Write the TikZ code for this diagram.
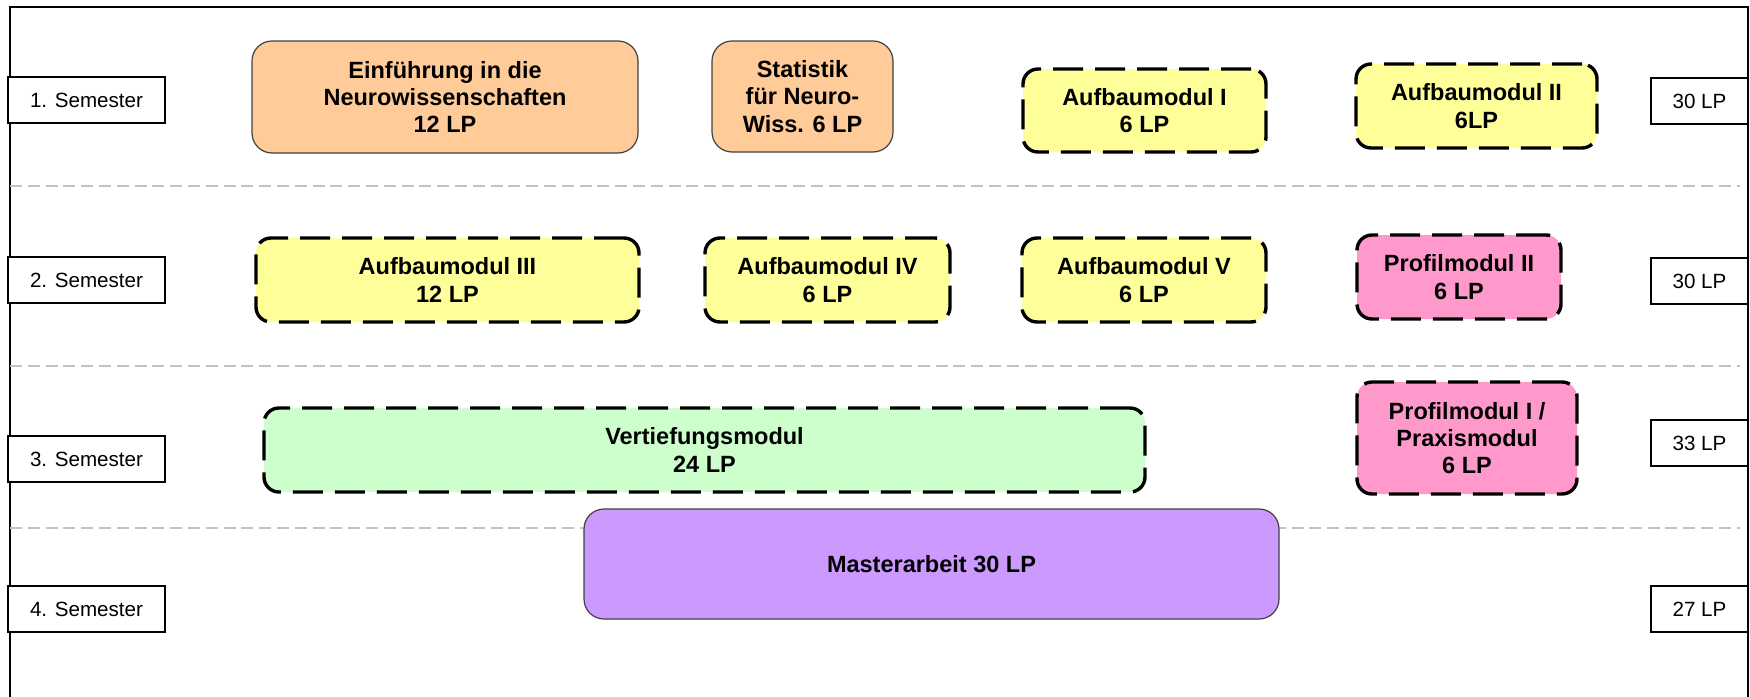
\documentclass[tikz,border=0pt]{standalone}
\usepackage{fontspec}
\setmainfont{Liberation Sans}
\definecolor{orangefill}{HTML}{FFCC99}
\definecolor{yellowfill}{HTML}{FFFF99}
\definecolor{pinkfill}{HTML}{FF99CC}
\definecolor{greenfill}{HTML}{CCFFCC}
\definecolor{purplefill}{HTML}{CC99FF}
\definecolor{sepgray}{HTML}{C2C2C2}
\definecolor{solidborder}{HTML}{404040}
\tikzset{
  modtext/.style={align=center, font=\fontsize{11.75}{13.6}\selectfont\bfseries, inner sep=0pt},
  solidbox/.style={modtext, draw=solidborder, line width=0.6pt, rounded corners=10pt},
  dashbox/.style={modtext, draw=black, line width=1.7pt, rounded corners=7.5pt, dash pattern=on 15pt off 6pt},
  semlabel/.style={draw=black, line width=1pt, fill=white, inner sep=0pt, font=\fontsize{10.3}{12}\selectfont, minimum height=23pt},
  sepline/.style={draw=sepgray, line width=1.4pt, dash pattern=on 6pt off 2.9pt},
  frameline/.style={draw=black, line width=1.2pt}
}
\begin{document}
\begin{tikzpicture}[x=0.5pt, y=-0.5pt]
\useasboundingbox (0,0) rectangle (1750,696);
% frame
\coordinate (fbl) at (10,700);
\coordinate (ftl) at (10,7);
\coordinate (ftr) at (1748,7);
\coordinate (fbr) at (1748,700);
\draw[frameline] (fbl) -- (ftl) -- (ftr) -- (fbr);
% separators
\coordinate (s1a) at (10,186); \coordinate (s1b) at (1740,186);
\coordinate (s2a) at (10,366); \coordinate (s2b) at (1740,366);
\coordinate (s3a) at (10,528); \coordinate (s3b) at (1740,528);
\draw[sepline] (s1a) -- (s1b);
\draw[sepline] (s2a) -- (s2b);
\draw[sepline] (s3a) -- (s3b);
% semester labels
\node[semlabel, minimum width=78.5pt] (sem1) at (86.5,100) {1. Semester};
\node[semlabel, minimum width=78.5pt] (sem2) at (86.5,280) {2. Semester};
\node[semlabel, minimum width=78.5pt] (sem3) at (86.5,459) {3. Semester};
\node[semlabel, minimum width=78.5pt] (sem4) at (86.5,609) {4. Semester};
% LP labels
\node[semlabel, minimum width=48.5pt] (lp1) at (1699.5,101) {30 LP};
\node[semlabel, minimum width=48.5pt] (lp2) at (1699.5,281) {30 LP};
\node[semlabel, minimum width=48.5pt] (lp3) at (1699.5,443) {33 LP};
\node[semlabel, minimum width=48.5pt] (lp4) at (1699.5,609) {27 LP};
% semester 1
\node[solidbox, fill=orangefill, minimum width=193pt, minimum height=56pt] (einf) at (445,97) {Einführung in die\\Neurowissenschaften\\12 LP};
\node[solidbox, fill=orangefill, minimum width=90.5pt, minimum height=55.5pt] (stat) at (802.5,96.5) {Statistik\\für Neuro-\\Wiss. 6 LP};
\node[dashbox, fill=yellowfill, minimum width=121.5pt, minimum height=41.5pt] (auf1) at (1144.5,110.5) {Aufbaumodul I\\6 LP};
\node[dashbox, fill=yellowfill, minimum width=120.5pt, minimum height=42pt] (auf2) at (1476.5,106) {Aufbaumodul II\\6LP};
% semester 2
\node[dashbox, fill=yellowfill, minimum width=191.5pt, minimum height=42pt] (auf3) at (447.5,280) {Aufbaumodul III\\12 LP};
\node[dashbox, fill=yellowfill, minimum width=122.5pt, minimum height=42pt] (auf4) at (827.5,280) {Aufbaumodul IV\\6 LP};
\node[dashbox, fill=yellowfill, minimum width=122pt, minimum height=42pt] (auf5) at (1144,280) {Aufbaumodul V\\6 LP};
\node[dashbox, fill=pinkfill, minimum width=102pt, minimum height=42pt] (prof2) at (1459,277) {Profilmodul II\\6 LP};
% semester 3
\node[dashbox, fill=greenfill, minimum width=440.5pt, minimum height=42pt] (vert) at (704.5,450) {Vertiefungsmodul\\24 LP};
\node[dashbox, fill=pinkfill, minimum width=110pt, minimum height=56pt] (prof1) at (1467,438) {Profilmodul I /\\Praxismodul\\6 LP};
% semester 4
\node[solidbox, fill=purplefill, minimum width=347.5pt, minimum height=55pt] (master) at (931.5,564) {Masterarbeit 30 LP};
\end{tikzpicture}
\end{document}
